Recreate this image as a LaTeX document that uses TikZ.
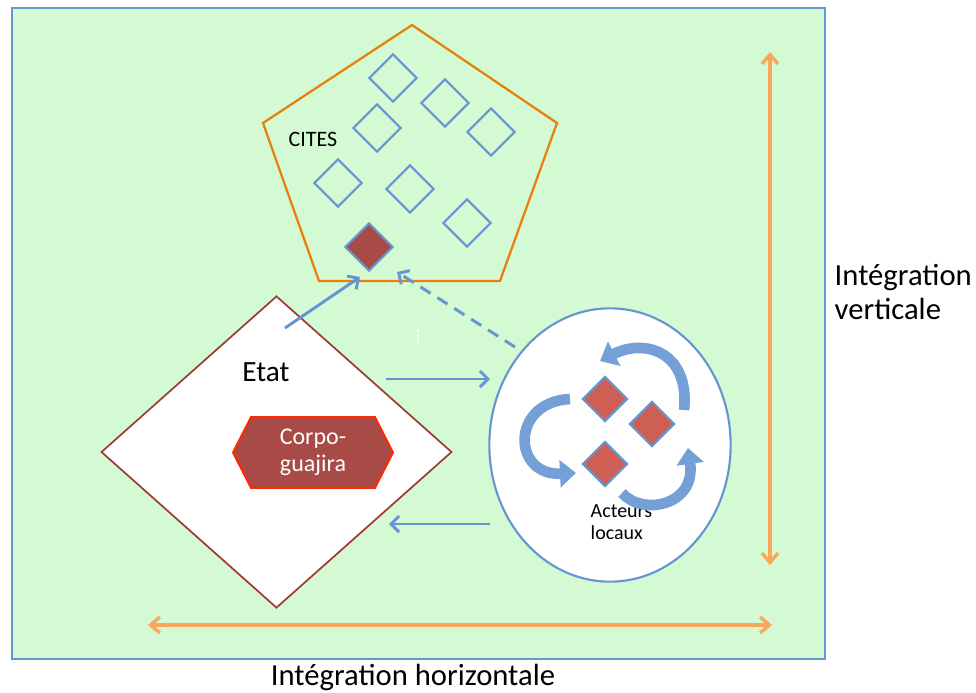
\documentclass[tikz,border=0pt]{standalone}
\usepackage{fontspec}
\setmainfont{Carlito}
\usetikzlibrary{shapes.geometric,shapes.symbols,arrows.meta}
\definecolor{fondvert}{RGB}{212,250,212}
\definecolor{bleu}{RGB}{102,150,210}
\definecolor{orangefonce}{RGB}{232,128,16}
\definecolor{orangeclair}{RGB}{248,166,92}
\definecolor{brique}{RGB}{168,74,69}
\definecolor{rougeclair}{RGB}{205,95,85}
\definecolor{bordetat}{RGB}{160,60,55}
\definecolor{rougevif}{RGB}{255,40,0}
\tikzset{
  cadre/.style     = {draw=bleu, line width=1.8pt, fill=fondvert},
  pentagone/.style = {draw=orangefonce, line width=1.7pt, line join=miter},
  espece/.style    = {shape=diamond, draw=bleu, line width=1.6pt, aspect=1,
                      inner sep=0pt, minimum size=36pt},
  acteur/.style    = {espece, fill=rougeclair, minimum size=34pt},
  etat/.style      = {shape=diamond, draw=bordetat, line width=1.3pt, fill=white,
                      inner sep=0pt, minimum width=263pt, minimum height=234pt},
  corpo/.style     = {shape=signal, signal to=west and east, signal pointer angle=126,
                      draw=rougevif, line width=1.5pt, fill=brique, text=white,
                      minimum width=120pt, minimum height=53pt, inner sep=0pt,
                      align=center, font=\fontsize{18}{20.5}\selectfont},
  local/.style     = {shape=ellipse, draw=bleu, line width=1.6pt, fill=white,
                      minimum width=181pt, minimum height=205pt},
  titre/.style     = {font=\fontsize{23}{26}\selectfont},
  petit/.style     = {font=\fontsize{15}{16.5}\selectfont},
  fleche/.style    = {draw=bleu, line width=2.2pt, -{Straight Barb[length=6pt,width=12pt]}},
  boucle/.style    = {draw=bleu!90, line width=8pt, -{Triangle[length=12pt,width=20pt]}},
  axe/.style       = {draw=orangeclair, line width=2.5pt,
                      {Straight Barb[length=7pt,width=12pt]}-{Straight Barb[length=7pt,width=12pt]}}
}
\begin{document}
\begin{tikzpicture}[x=0.75pt, y=-0.75pt]
  \useasboundingbox (0,0) rectangle (976,693);
  \fill[white] (0,0) rectangle (976,693);
  \draw[cadre] (12,8) rectangle (825,659);

  \draw[pentagone] (412,25) -- (557,123) -- (500,281) -- (319,281) -- (263,123) -- cycle;
  \node[font=\fontsize{16.5}{18}\selectfont] (cites) at (313,139) {CITES};
  \node[espece] (e1) at (393,78) {};
  \node[espece] (e2) at (445,103) {};
  \node[espece] (e3) at (491,132) {};
  \node[espece] (e4) at (377,128) {};
  \node[espece] (e5) at (338,183) {};
  \node[espece] (e6) at (410,189) {};
  \node[espece] (e7) at (467,223) {};
  \node[espece, fill=brique] (e8) at (369,247) {};

  \node[etat] (etat) at (276.5,452) {};
  \node[titre, font=\fontsize{22}{26}\selectfont] (etatlbl) at (266,372) {Etat};
  \node[corpo] (guajira) at (313,452.5) {Corpo-\\guajira};

  \node[local] (locaux) at (610,445) {};
  \node[acteur] (a1) at (605,399) {};
  \node[acteur] (a2) at (652,424) {};
  \node[acteur] (a3) at (605,464) {};
  \node[petit, align=left, anchor=west] (acteurs) at (586,522) {Acteurs\\locaux};
  \draw[boucle] (684,410) .. controls (690,352) and (645,338) .. (600,361);
  \draw[boucle] (570,399) .. controls (510,402) and (512,476) .. (576,473);
  \draw[boucle] (622,493) .. controls (642,516) and (696,506) .. (688,448);

  \node[petit, text=white] (info) at (418,337) {i};

  \coordinate (etathaut) at (285,328);
  \coordinate (citesbas) at (360,277);
  \coordinate (localhaut) at (515,347);
  \coordinate (citesdroite) at (397,272);
  \coordinate (etatdroite) at (386,379);
  \coordinate (localgauche) at (490,379);
  \coordinate (localbas) at (490,524);
  \coordinate (etatbas) at (389,524);
  \draw[fleche] (etathaut) -- (citesbas);
  \draw[fleche, dash pattern=on 9pt off 6pt] (localhaut) -- (citesdroite);
  \draw[fleche] (etatdroite) -- (localgauche);
  \draw[fleche] (localbas) -- (etatbas);

  \coordinate (vhaut) at (770,52);
  \coordinate (vbas) at (770,565);
  \coordinate (hgauche) at (148,625);
  \coordinate (hdroite) at (772,625);
  \draw[axe] (vhaut) -- (vbas);
  \draw[axe] (hgauche) -- (hdroite);

  \node[titre, align=left, anchor=west] (vertical) at (830,292) {Intégration\\verticale};
  \node[titre] (horizontal) at (413,677) {Intégration horizontale};
\end{tikzpicture}
\end{document}
